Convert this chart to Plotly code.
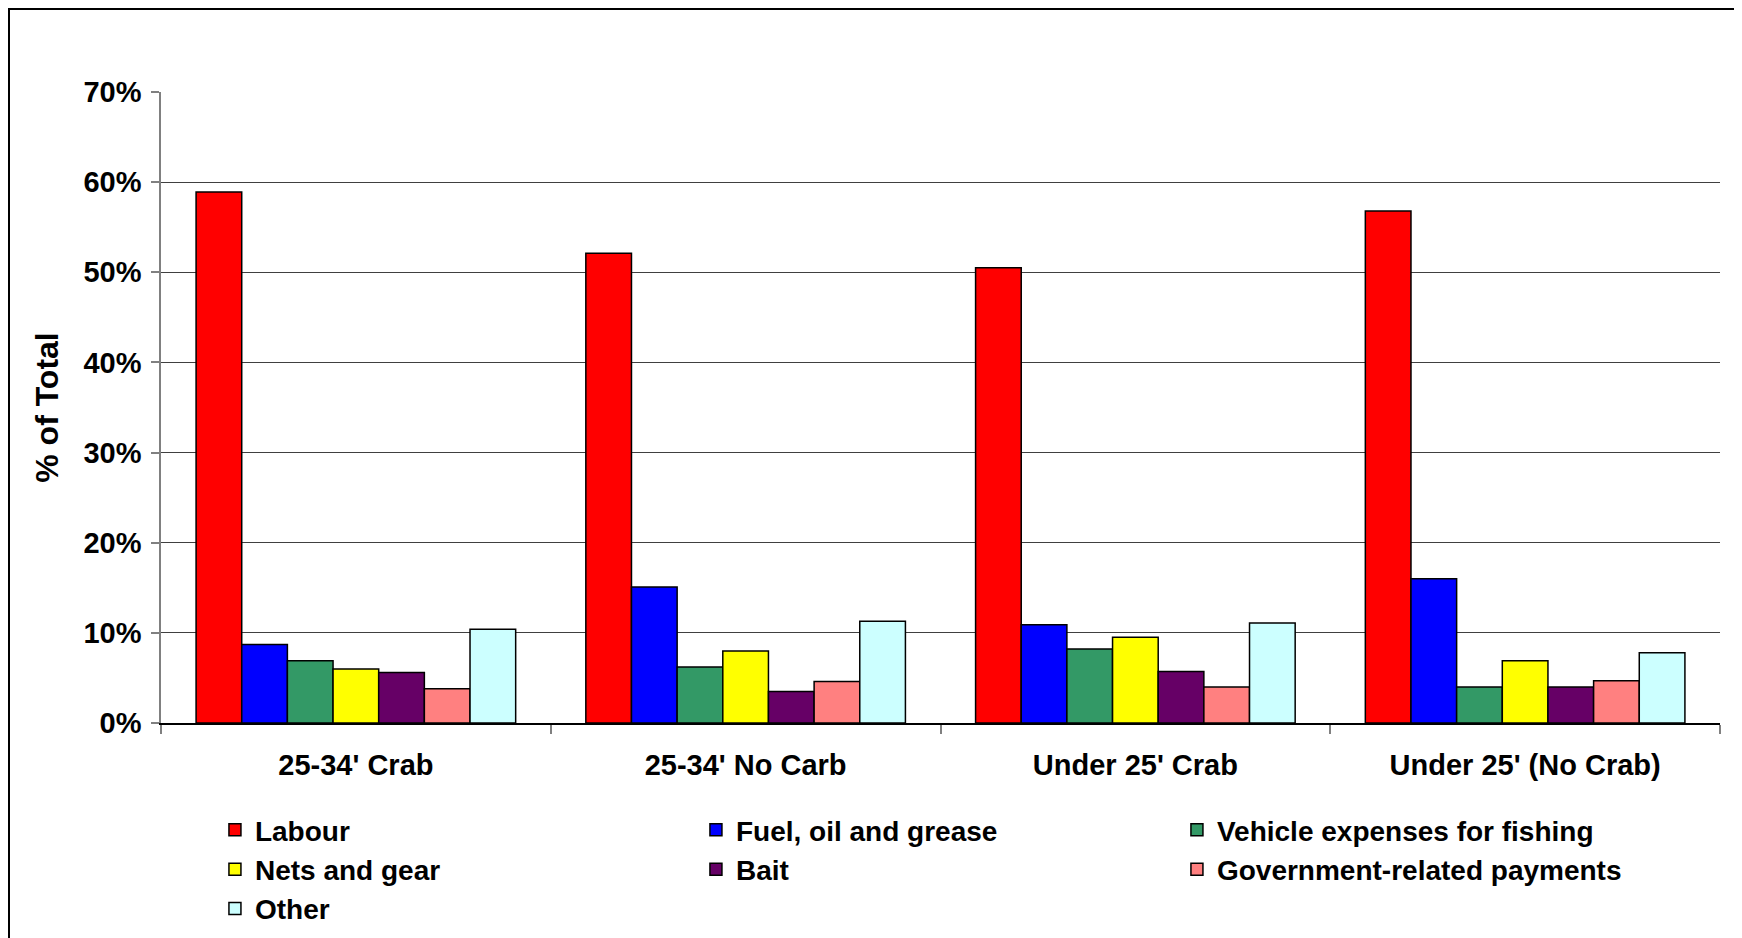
import plotly.graph_objects as go

# categories (vessel groups) and expense shares, % of total
groups = ["25-34' Crab", "25-34' No Carb", "Under 25' Crab", "Under 25' (No Crab)"]

labour = [58.9, 52.1, 50.5, 56.8]
fuel = [8.7, 15.1, 10.9, 16.0]
vehicle = [6.9, 6.2, 8.2, 4.0]
nets = [6.0, 8.0, 9.5, 6.9]
bait = [5.6, 3.5, 5.7, 4.0]
government = [3.8, 4.6, 4.0, 4.7]
other = [10.4, 11.3, 11.1, 7.8]

series = [
    ("Labour", labour, "#FF0000"),
    ("Fuel, oil and grease", fuel, "#0000FF"),
    ("Vehicle expenses for fishing", vehicle, "#339966"),
    ("Nets and gear", nets, "#FFFF00"),
    ("Bait", bait, "#660066"),
    ("Government-related payments", government, "#FF8080"),
    ("Other", other, "#CCFFFF"),
]

FONT = "Arial, 'Liberation Sans', sans-serif"

# page body has an 8px margin, so the figure is a bit smaller than the window
W, H = 1734, 930
ML, MR, MT, MB = 153, 22, 84, 215
PW, PH = W - ML - MR, H - MT - MB

fig = go.Figure()
for name, vals, color in series:
    fig.add_trace(go.Bar(
        x=groups, y=vals, name=name,
        marker=dict(color=color, line=dict(color="black", width=1.5)),
    ))

fig.update_layout(
    width=W, height=H,
    barmode="group", bargap=0.18, bargroupgap=0,
    paper_bgcolor="white", plot_bgcolor="white",
    font=dict(family=FONT, size=29, color="black", weight="bold"),
    margin=dict(l=ML, r=MR, t=MT, b=MB, autoexpand=False),
    showlegend=True,
    legend=dict(
        orientation="h", x=0.0346, xanchor="left", y=-0.13, yanchor="top",
        entrywidth=436, entrywidthmode="pixels",
        font=dict(family=FONT, size=28, color="black", weight="bold"),
        traceorder="normal", bgcolor="rgba(0,0,0,0)",
    ),
)

fig.update_yaxes(
    range=[0, 70], dtick=10, ticksuffix="%",
    showgrid=True, gridcolor="#404040", gridwidth=1,
    showline=True, linecolor="#808080", linewidth=1.5,
    ticks="outside", ticklen=8, tickcolor="#808080", tickwidth=1.5,
    tickfont=dict(family=FONT, size=29, weight="bold"),
    ticklabelstandoff=4,
    zeroline=False,
    title=dict(text="% of Total", font=dict(family=FONT, size=32, weight="bold"), standoff=15),
)

fig.update_xaxes(
    type="category", tickson="boundaries",
    showline=True, linecolor="black", linewidth=1.5,
    ticks="outside", ticklen=9, tickcolor="#808080", tickwidth=1.5,
    tickfont=dict(family=FONT, size=29, weight="bold"),
    ticklabelstandoff=15,
    showgrid=False,
)

# outer chart border
fig.add_shape(
    type="rect", xref="paper", yref="paper",
    x0=(1 - ML) / PW, x1=(W - 7 - ML) / PW,
    y0=(PH + 40) / -PH + 1 - 1, y1=(MT - 1 + PH) / PH,
    line=dict(color="black", width=2), fillcolor="rgba(0,0,0,0)", layer="below",
)

fig.write_html("out.html")
